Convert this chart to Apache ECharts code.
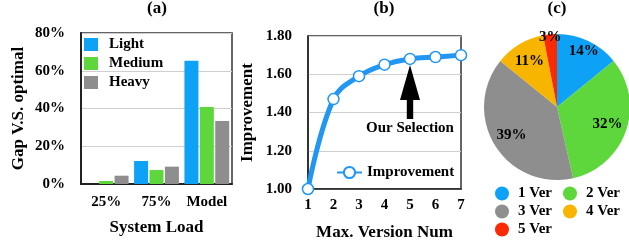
<!DOCTYPE html>
<html><head><meta charset="utf-8">
<script src="https://cdn.jsdelivr.net/npm/echarts@6/dist/echarts.min.js"></script>
<style>html,body{margin:0;padding:0;background:#fff}#c{width:629px;height:248px}</style>
</head><body><div id="c"></div>
<script>
// (a) Gap vs optimal
const loadCats = ['25%', '75%', 'Model'];
const lightVals = [0, 12.2, 65.3];
const mediumVals = [1.6, 7.4, 40.8];
const heavyVals = [4.4, 9.2, 33.4];
const gapTicks = [0, 20, 40, 60, 80];
// (b) Improvement vs max version num
const versionCats = ['1', '2', '3', '4', '5', '6', '7'];
const improvementVals = [1.00, 1.47, 1.59, 1.65, 1.68, 1.69, 1.70];
const selectedVersion = '5';
const selectedValue = 1.68;
// (c) version distribution
const pieNames = ['1 Ver', '2 Ver', '3 Ver', '4 Ver', '5 Ver'];
const pieVals = [14, 32, 39, 11, 3];

const F = "'Liberation Serif','Times New Roman',serif";
const txt = (s) => ({fontFamily: F, fontWeight: 'bold', color: '#000', fontSize: s});
const cBlue = '#0ea2f7', cGreen = '#5ed73c', cGray = '#8e8e8e', cOrange = '#f7b500', cRed = '#fa2a05', cLine = '#2196f3';
const pieColors = [cBlue, cGreen, cGray, cOrange, cRed];

const chart = echarts.init(document.getElementById('c'), null, {renderer: 'canvas'});
const pieData = pieNames.map((n, i) => ({name: n, value: pieVals[i], itemStyle: {color: pieColors[i]}}));
// transparent overlays that only carry the slice labels, at different label radii
const labelRing = (which) => pieNames.map((n, i) => ({
  name: n, value: pieVals[i], itemStyle: {color: 'rgba(0,0,0,0)'},
  label: {show: which.indexOf(i) >= 0}
}));

const pieLabelSeries = (r0, which) => ({
  type: 'pie', center: [557, 107], radius: [r0, 73], startAngle: 90, clockwise: true,
  data: labelRing(which), silent: true, legendHoverLink: false,
  labelLine: {show: false}, itemStyle: {borderWidth: 0}, minShowLabelAngle: 0,
  avoidLabelOverlap: false, labelLayout: {hideOverlap: false},
  label: Object.assign(txt(15), {position: 'inside', formatter: '{c}%'}),
  emphasis: {disabled: true}
});

chart.setOption({
  animation: false,
  title: [
    {text: '(a)', left: 157, top: 0, textAlign: 'center', padding: 0, textStyle: txt(17)},
    {text: '(b)', left: 384, top: 0, textAlign: 'center', padding: 0, textStyle: txt(17)},
    {text: '(c)', left: 557, top: 0, textAlign: 'center', padding: 0, textStyle: txt(17)}
  ],
  grid: [
    {left: 81, top: 33, width: 151, height: 151, show: true, borderColor: '#333', borderWidth: 1.5, containLabel: false},
    {left: 308, top: 36, width: 153, height: 153, show: true, borderColor: '#333', borderWidth: 1.5, containLabel: false}
  ],
  legend: [
    {orient: 'vertical', left: 84, top: 37, padding: 0, itemWidth: 14, itemHeight: 13, itemGap: 4,
     icon: 'rect', data: ['Light', 'Medium', 'Heavy'], textStyle: Object.assign(txt(15), {padding: [0, 0, 0, 6]})},
    {left: 336, top: 165, padding: 0, itemWidth: 25, itemHeight: 14, data: ['Improvement'], textStyle: txt(15)},
    {orient: 'vertical', left: 495, top: 186, padding: 0, itemWidth: 14, itemHeight: 14, itemGap: 3, icon: 'circle',
     data: ['1 Ver', '3 Ver', '5 Ver'], textStyle: Object.assign(txt(15), {padding: [0, 0, 0, 4]})},
    {orient: 'vertical', left: 563, top: 186, padding: 0, itemWidth: 14, itemHeight: 14, itemGap: 3, icon: 'circle',
     data: ['2 Ver', '4 Ver'], textStyle: Object.assign(txt(15), {padding: [0, 0, 0, 4]})}
  ],
  xAxis: [
    {type: 'category', gridIndex: 0, data: loadCats,
     axisLine: {lineStyle: {color: '#222', width: 2}}, axisTick: {show: false},
     axisLabel: Object.assign(txt(15), {margin: 11, interval: 0}),
     name: 'System Load', nameLocation: 'middle', nameGap: 35, nameTextStyle: txt(17)},
    {type: 'category', gridIndex: 1, data: versionCats, boundaryGap: false,
     axisLine: {lineStyle: {color: '#222', width: 1.5}}, axisTick: {show: false},
     axisLabel: Object.assign(txt(15), {margin: 9, interval: 0}),
     name: 'Max. Version Num', nameLocation: 'middle', nameGap: 35, nameTextStyle: txt(17)}
  ],
  yAxis: [
    {type: 'value', gridIndex: 0, min: gapTicks[0], max: gapTicks[gapTicks.length - 1], interval: 20,
     axisLine: {show: true, lineStyle: {color: '#222', width: 2}}, axisTick: {show: false},
     splitLine: {lineStyle: {color: '#cfcfcf', width: 1}},
     axisLabel: Object.assign(txt(15), {margin: 16, formatter: '{value}%'}),
     name: 'Gap V.S. optimal', nameLocation: 'middle', nameGap: 54, nameTextStyle: txt(17)},
    {type: 'value', gridIndex: 1, min: 1, max: 1.8, interval: 0.2,
     axisLine: {show: true, lineStyle: {color: '#222', width: 1.5}}, axisTick: {show: false},
     splitLine: {lineStyle: {color: '#cfcfcf', width: 1}},
     axisLabel: Object.assign(txt(15), {margin: 16, formatter: (v) => v.toFixed(2)}),
     name: 'Improvement', nameLocation: 'middle', nameGap: 52, nameTextStyle: txt(17)}
  ],
  series: [
    {name: 'Light', type: 'bar', xAxisIndex: 0, yAxisIndex: 0, data: lightVals, barWidth: 14, barGap: '10%', itemStyle: {color: cBlue}},
    {name: 'Medium', type: 'bar', xAxisIndex: 0, yAxisIndex: 0, data: mediumVals, barWidth: 14, barGap: '10%', itemStyle: {color: cGreen}},
    {name: 'Heavy', type: 'bar', xAxisIndex: 0, yAxisIndex: 0, data: heavyVals, barWidth: 14, barGap: '10%', itemStyle: {color: cGray}},
    {name: 'Improvement', type: 'line', xAxisIndex: 1, yAxisIndex: 1, data: improvementVals, smooth: 0.4,
     symbol: 'circle', symbolSize: 11, lineStyle: {color: cLine, width: 5},
     itemStyle: {color: '#fff', borderColor: cLine, borderWidth: 1.5},
     markPoint: {
       symbol: 'path://M10,0 L20,35 L13.2,35 L13.2,54 L6.8,54 L6.8,35 L0,35 Z',
       symbolSize: [20, 54], symbolOffset: [0, 33], silent: true,
       itemStyle: {color: '#000', borderWidth: 0},
       label: Object.assign(txt(15), {show: true, position: 'bottom', distance: 2, formatter: 'Our Selection'}),
       data: [{coord: [selectedVersion, selectedValue]}]
     }},
    {name: 'dist', type: 'pie', center: [557, 107], radius: [0, 73], startAngle: 90, clockwise: true,
     data: pieData, label: {show: false}, labelLine: {show: false}, itemStyle: {borderWidth: 0}},
    pieLabelSeries(28, [1, 2, 3]),
    pieLabelSeries(45, [0]),
    pieLabelSeries(61, [4])
  ]
});
</script></body></html>
